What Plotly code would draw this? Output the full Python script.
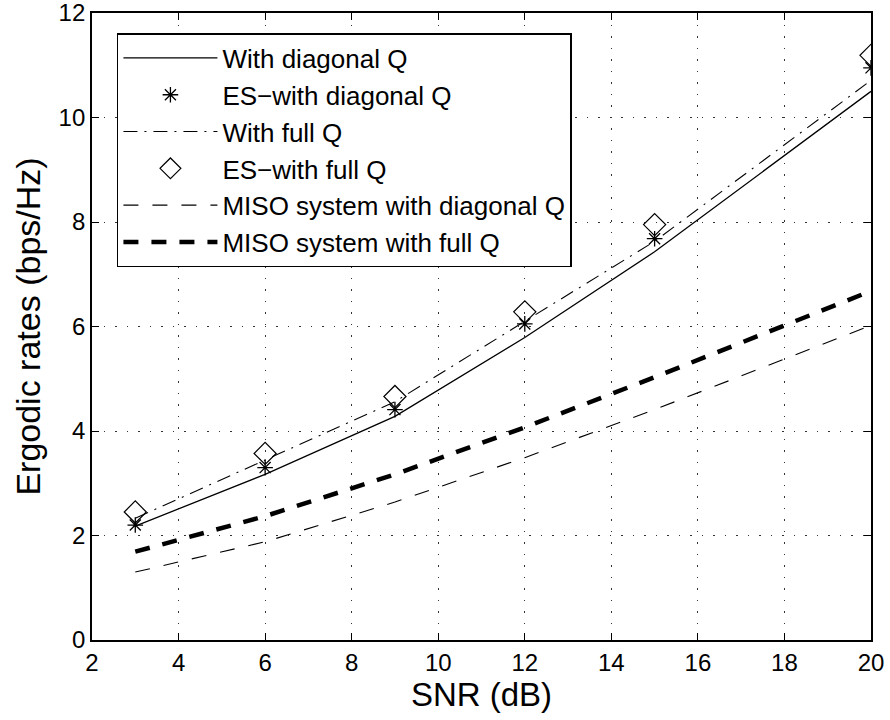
import plotly.graph_objects as go

snr = [3, 6, 9, 12, 15, 20]
diag_q = [2.18, 3.17, 4.28, 5.79, 7.43, 10.50]
es_diag_q = [2.20, 3.30, 4.41, 6.05, 7.68, 10.95]
full_q = [2.33, 3.45, 4.56, 6.10, 7.63, 10.71]
es_full_q = [2.45, 3.57, 4.66, 6.28, 7.95, 11.19]
miso_diag = [1.30, 1.88, 2.64, 3.49, 4.41, 6.02]
miso_full = [1.69, 2.37, 3.17, 4.07, 5.03, 6.68]

names = ["With diagonal Q", "ES\u2212with diagonal Q", "With full Q",
         "ES\u2212with full Q", "MISO system with diagonal Q", "MISO system with full Q"]

FONT = "Liberation Sans, Arial, Helvetica, sans-serif"

fig = go.Figure()
fig.add_trace(go.Scatter(x=snr, y=diag_q, mode="lines", name=names[0],
                         line=dict(color="black", width=1.3)))
fig.add_trace(go.Scatter(x=snr, y=es_diag_q, mode="markers", name=names[1],
                         marker=dict(symbol="asterisk-open", size=13, color="black",
                                     line=dict(color="black", width=1.3))))
fig.add_trace(go.Scatter(x=snr, y=full_q, mode="lines", name=names[2],
                         line=dict(color="black", width=1.1, dash="14px,7px,2px,7px")))
fig.add_trace(go.Scatter(x=snr, y=es_full_q, mode="markers", name=names[3],
                         marker=dict(symbol="diamond-open", size=17, color="black",
                                     line=dict(color="black", width=1.2))))
fig.add_trace(go.Scatter(x=snr, y=miso_diag, mode="lines", name=names[4],
                         line=dict(color="black", width=1.1, dash="15px,14px")))
fig.add_trace(go.Scatter(x=snr, y=miso_full, mode="lines", name=names[5],
                         line=dict(color="black", width=4.5, dash="15px,13px")))

axis_common = dict(
    automargin=False, ticklabeloverflow="allow",
    showline=True, linecolor="black", linewidth=1.8, mirror="ticks",
    ticks="inside", ticklen=7, tickcolor="black", tickwidth=1.2,
    showgrid=True, gridcolor="rgba(0,0,0,0.8)", griddash="1.5px,10px", gridwidth=1.2,
    zeroline=False, tickfont=dict(size=24, color="black", family=FONT),
)

fig.update_xaxes(range=[2, 20], dtick=2, tick0=2,
                 title=dict(text="SNR (dB)", font=dict(size=33, color="black", family=FONT), standoff=4),
                 **axis_common)
fig.update_yaxes(range=[0, 12], dtick=2,
                 title=dict(text="Ergodic rates (bps/Hz)", font=dict(size=34, color="black", family=FONT), standoff=8),
                 **axis_common)

fig.update_layout(
    width=890, height=720,
    margin=dict(l=92, r=19, t=13, b=80, autoexpand=False),
    plot_bgcolor="white", paper_bgcolor="white",
    font=dict(family=FONT, color="black"),
    showlegend=True,
    legend=dict(x=0.032, y=0.968, xanchor="left", yanchor="top",
                bgcolor="white", bordercolor="black", borderwidth=1.5,
                font=dict(size=26, color="black", family=FONT),
                itemwidth=94),
)

fig.write_html("out.html")
